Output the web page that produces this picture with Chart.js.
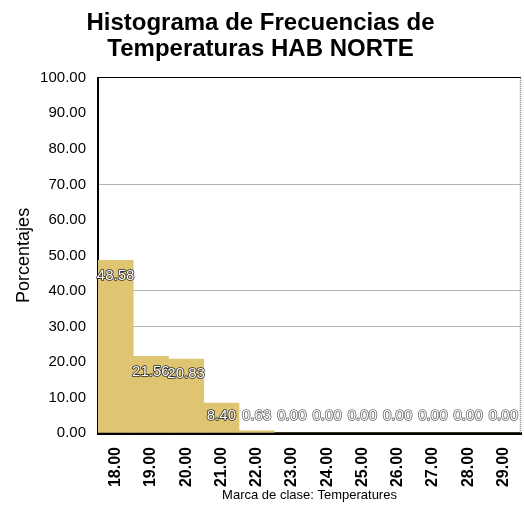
<!DOCTYPE html>
<html>
<head>
<meta charset="utf-8">
<script src="https://cdn.jsdelivr.net/npm/chart.js@4"></script>
<style>
  html, body { margin: 0; padding: 0; background: #fff; }
  #wrap { width: 524px; height: 506px; }
</style>
</head>
<body>
<div id="wrap"><canvas id="chart" width="524" height="506"></canvas></div>
<script>
//class marks (x axis)
const categories = ["18.00", "19.00", "20.00", "21.00", "22.00", "23.00", "24.00", "25.00", "26.00", "27.00", "28.00", "29.00"];
//percentage for each class
const percentages = [48.58, 21.56, 20.83, 8.40, 0.63, 0, 0, 0, 0, 0, 0, 0];
//y axis ticks
const yTicks = [0, 10, 20, 30, 40, 50, 60, 70, 80, 90, 100];
//gridlines that show in the original
const shownGrid = [30, 40, 70];

const FONT = "'Liberation Sans', Arial, sans-serif";

//draw the value labels (white with dark outline)
const valueLabels = {
  id: "valueLabels",
  afterDatasetsDraw(chart) {
    const ctx = chart.ctx;
    const area = chart.chartArea;
    const meta = chart.getDatasetMeta(0);
    ctx.save();
    ctx.font = "15px " + FONT;
    ctx.textAlign = "center";
    ctx.textBaseline = "middle";
    ctx.lineJoin = "round";
    meta.data.forEach((bar, i) => {
      const txt = percentages[i].toFixed(2);
      const y = Math.min(bar.y + 15, area.bottom - 17);
      ctx.strokeStyle = percentages[i] > 5 ? "#2a2a2a" : "#666";
      ctx.lineWidth = 1.6;
      ctx.strokeText(txt, bar.x, y);
      ctx.fillStyle = "#fff";
      ctx.fillText(txt, bar.x, y);
    });
    ctx.restore();
  }
};

//right border of the plot (grey dotted)
const rightBorder = {
  id: "rightBorder",
  beforeDatasetsDraw(chart) {
    const ctx = chart.ctx;
    const a = chart.chartArea;
    ctx.save();
    ctx.strokeStyle = "#888";
    ctx.lineWidth = 1.5;
    ctx.setLineDash([1, 1]);
    ctx.beginPath();
    ctx.moveTo(a.right - 0.5, a.top);
    ctx.lineTo(a.right - 0.5, a.bottom);
    ctx.stroke();
    ctx.restore();
  }
};

new Chart(document.getElementById("chart"), {
  type: "bar",
  plugins: [rightBorder, valueLabels],
  data: {
    labels: categories,
    datasets: [{
      data: percentages,
      backgroundColor: "#dfc572",
      borderWidth: 0,
      barPercentage: 1,
      categoryPercentage: 1
    }]
  },
  options: {
    responsive: false,
    animation: false,
    layout: { padding: { left: 0, right: 3, top: 0, bottom: 0 } },
    plugins: {
      legend: { display: false },
      tooltip: { enabled: false },
      title: {
        display: true,
        text: ["Histograma de Frecuencias de", "Temperaturas HAB NORTE"],
        color: "#000",
        font: { family: FONT, size: 24, weight: "bold", lineHeight: 1.1 },
        padding: { top: 10, bottom: 15 }
      }
    },
    scales: {
      x: {
        grid: { display: false },
        border: { color: "#000", width: 3 },
        ticks: {
          color: "#000",
          font: { family: FONT, size: 16, weight: "bold" },
          minRotation: 90,
          maxRotation: 90,
          padding: 6,
          autoSkip: false
        },
        title: {
          display: true,
          text: "Marca de clase: Temperatures",
          color: "#000",
          font: { family: FONT, size: 13 },
          padding: { top: 2, bottom: 3 }
        },
        afterFit(scale) {
          scale.height = 73;
          scale.paddingLeft = 0;
          scale.paddingRight = 0;
        }
      },
      y: {
        min: 0,
        max: 100,
        afterBuildTicks(scale) { scale.ticks = yTicks.map(v => ({ value: v })); },
        grid: {
          drawTicks: false,
          color(c) {
            if (c.tick.value === 100) return "#000";
            return shownGrid.includes(c.tick.value) ? "#b3b3b3" : "rgba(0,0,0,0)";
          },
          lineWidth: 1
        },
        border: { color: "#000", width: 2 },
        ticks: {
          color: "#000",
          font: { family: FONT, size: 15 },
          padding: 12,
          callback: (v) => Number(v).toFixed(2)
        },
        title: {
          display: true,
          text: "Porcentajes",
          color: "#000",
          font: { family: FONT, size: 18 },
          padding: { top: 13, bottom: 0 }
        },
        afterFit(scale) { scale.width = 98; }
      }
    }
  }
});
</script>
</body>
</html>
